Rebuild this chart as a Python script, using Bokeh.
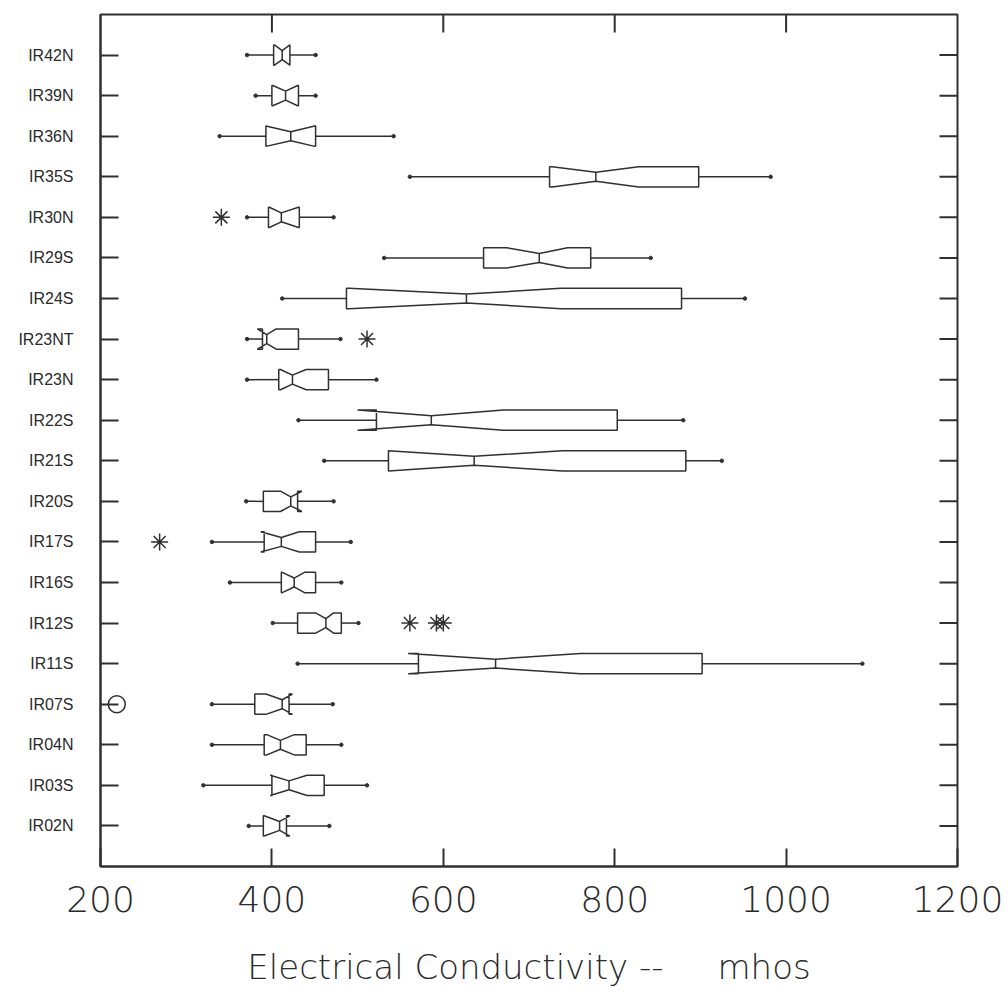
from bokeh.plotting import figure
from bokeh.models import ColumnDataSource, FixedTicker, Range1d
from bokeh.embed import file_html
from bokeh.resources import INLINE

# ---------------- data (top to bottom) ----------------
cats = ["IR42N", "IR39N", "IR36N", "IR35S", "IR30N", "IR29S", "IR24S", "IR23NT",
        "IR23N", "IR22S", "IR21S", "IR20S", "IR17S", "IR16S", "IR12S", "IR11S",
        "IR07S", "IR04N", "IR03S", "IR02N"]
wmin = [371, 381, 339, 561, 371, 531, 412, 371, 371, 431, 461, 370, 330, 351, 401, 430, 330, 330, 320, 373]
q1   = [402, 400, 393, 724, 396, 647, 487, 389, 408, 522, 536, 390, 391, 411, 430, 571, 380, 391, 400, 390]
nlo  = [403, 401, 393, 727, 397, 674, 490, 383, 410, 500, 536, 410, 387, 412, 451, 559, 393, 394, 398, 391]
med  = [412, 416, 422, 778, 411, 712, 627, 394, 424, 586, 636, 422, 411, 426, 463, 661, 412, 410, 420, 409]
nhi  = [421, 430, 450, 828, 431, 745, 737, 405, 440, 670, 739, 435, 432, 438, 472, 760, 424, 426, 441, 421]
q3   = [421, 431, 451, 898, 432, 772, 878, 431, 466, 803, 883, 430, 451, 451, 481, 902, 420, 440, 461, 417]
wmax = [451, 451, 542, 982, 472, 842, 952, 480, 522, 880, 925, 472, 492, 481, 501, 1089, 471, 481, 511, 467]

star_cat = ["IR30N", "IR23NT", "IR17S", "IR12S", "IR12S", "IR12S"]
star_val = [341, 511, 269, 561, 592, 600]
circ_cat = ["IR07S"]
circ_val = [219]

x_ticks = [200, 400, 600, 800, 1000, 1200]
x_label = "Electrical Conductivity --\u00a0\u00a0\u00a0\u00a0 mhos"

# ---------------- geometry helpers ----------------
n = len(cats)
X0, X1 = 200, 1200
Y0, Y1 = 0, n + 1
ypos = {c: n - i for i, c in enumerate(cats)}
H = 0.25   # half box height (category units)
W = 0.11   # half waist height

xs, ys = [], []
for i, c in enumerate(cats):
    yc = ypos[c]
    xs.append([q1[i], nlo[i], med[i], nhi[i], q3[i], q3[i], nhi[i], med[i], nlo[i], q1[i]])
    ys.append([yc + H, yc + H, yc + W, yc + H, yc + H, yc - H, yc - H, yc - W, yc - H, yc - H])

yc_list = [ypos[c] for c in cats]

LINE = "#303030"
TEXT = "#2a2a2a"
FW, FH = 857, 852           # frame size in px
TICK_PX = 18
tick_dx = TICK_PX * (X1 - X0) / FW
tick_dy = TICK_PX * (Y1 - Y0) / FH

p = figure(width=1008, height=1005, output_backend="svg", toolbar_location=None,
           x_range=Range1d(X0, X1), y_range=Range1d(Y0, Y1),
           min_border_left=100, min_border_right=51, min_border_top=14, min_border_bottom=139)
p.grid.visible = False
p.outline_line_color = LINE
p.outline_line_width = 2
p.background_fill_color = "white"
p.border_fill_color = "white"

# whiskers
wsrc = ColumnDataSource(dict(y=yc_list, wmin=wmin, q1=q1, q3=q3, wmax=wmax))
p.segment(x0="wmin", y0="y", x1="q1", y1="y", source=wsrc, line_color=LINE, line_width=1.5)
p.segment(x0="q3", y0="y", x1="wmax", y1="y", source=wsrc, line_color=LINE, line_width=1.5)
p.scatter(x="wmin", y="y", source=wsrc, size=3.5, color=LINE)
p.scatter(x="wmax", y="y", source=wsrc, size=3.5, color=LINE)

# notched boxes
bsrc = ColumnDataSource(dict(xs=xs, ys=ys))
p.patches(xs="xs", ys="ys", source=bsrc, fill_color="white", line_color=LINE, line_width=1.5)

# median ticks
msrc = ColumnDataSource(dict(x=med, y0=[y - W for y in yc_list], y1=[y + W for y in yc_list]))
p.segment(x0="x", y0="y0", x1="x", y1="y1", source=msrc, line_color=LINE, line_width=1.5)

# outliers
ssrc = ColumnDataSource(dict(x=star_val, y=[ypos[c] for c in star_cat]))
p.scatter(x="x", y="y", source=ssrc, marker="asterisk", size=17, line_color=LINE, line_width=1.5)
csrc = ColumnDataSource(dict(x=circ_val, y=[ypos[c] for c in circ_cat]))
p.scatter(x="x", y="y", source=csrc, marker="circle", size=17, fill_color=None,
          line_color=LINE, line_width=1.5)

# inside ticks on the top and right frame edges (mirroring the axes' tick positions)
inner_x = [t for t in x_ticks if X0 < t < X1]
tsrc = ColumnDataSource(dict(x=inner_x, y0=[Y1] * len(inner_x), y1=[Y1 - tick_dy] * len(inner_x)))
p.segment(x0="x", y0="y0", x1="x", y1="y1", source=tsrc, line_color=LINE, line_width=2)
rsrc = ColumnDataSource(dict(y=yc_list, x0=[X1] * n, x1=[X1 - tick_dx] * n))
p.segment(x0="x0", y0="y", x1="x1", y1="y", source=rsrc, line_color=LINE, line_width=2)

# ---------------- axes ----------------
xa = p.xaxis[0]
xa.ticker = FixedTicker(ticks=x_ticks)
xa.major_tick_in = TICK_PX
xa.major_tick_out = 0
xa.minor_tick_in = 0
xa.minor_tick_out = 0
xa.axis_line_width = 2
xa.axis_line_color = LINE
xa.major_tick_line_width = 2
xa.major_tick_line_color = LINE
xa.major_label_text_font = "DejaVu Sans Light, DejaVu Sans"
xa.major_label_text_font_size = "36px"
xa.major_label_text_color = TEXT
xa.major_label_standoff = 19
xa.axis_label = x_label
xa.axis_label_text_font = "DejaVu Sans Light, DejaVu Sans"
xa.axis_label_text_font_size = "34px"
xa.axis_label_text_font_style = "normal"
xa.axis_label_text_color = TEXT
xa.axis_label_standoff = 32

ya = p.yaxis[0]
ya.ticker = FixedTicker(ticks=list(range(1, n + 1)))
ya.major_label_overrides = {ypos[c]: c for c in cats}
ya.major_tick_in = TICK_PX
ya.major_tick_out = 0
ya.minor_tick_in = 0
ya.minor_tick_out = 0
ya.axis_line_width = 2
ya.axis_line_color = LINE
ya.major_tick_line_width = 2
ya.major_tick_line_color = LINE
ya.major_label_text_font = "Liberation Sans"
ya.major_label_text_font_size = "16px"
ya.major_label_text_color = TEXT
ya.major_label_standoff = 27

open("out.html", "w").write(file_html(p, INLINE))
